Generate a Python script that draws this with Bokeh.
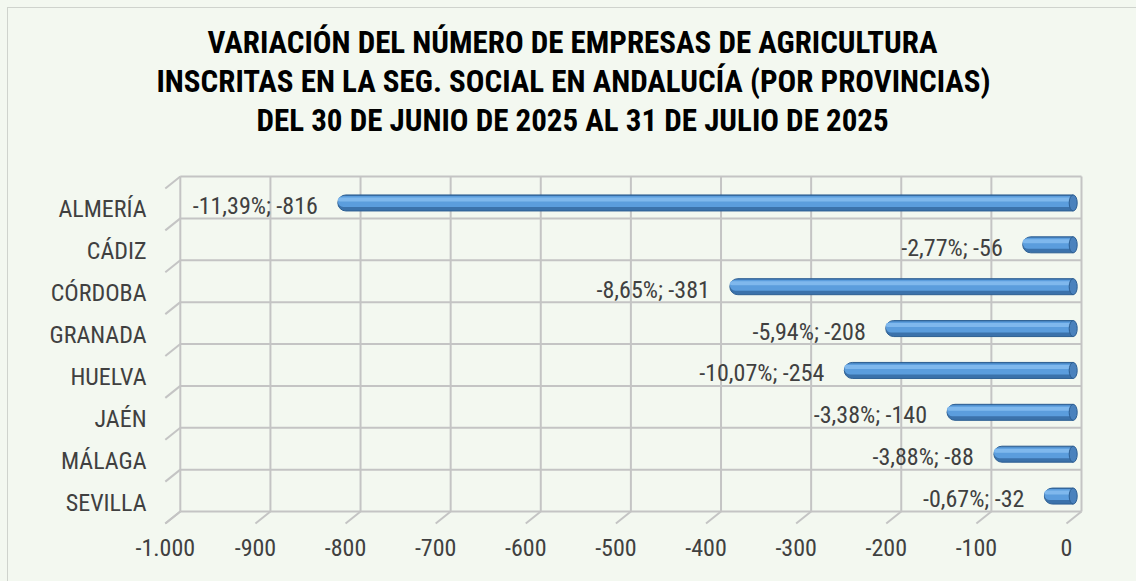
from bokeh.plotting import figure
from bokeh.models import Range1d, LinearAxis, FixedTicker, ColumnDataSource, Title
from bokeh.embed import file_html
from bokeh.resources import INLINE
from bokeh.core.properties import value

# ---------------- data ----------------
provincias = ["ALMERÍA", "CÁDIZ", "CÓRDOBA", "GRANADA", "HUELVA", "JAÉN", "MÁLAGA", "SEVILLA"]
variacion = [-816, -56, -381, -208, -254, -140, -88, -32]
porcentaje = ["-11,39%", "-2,77%", "-8,65%", "-5,94%", "-10,07%", "-3,38%", "-3,88%", "-0,67%"]
x_ticks = [-1000, -900, -800, -700, -600, -500, -400, -300, -200, -100, 0]
x_tick_labels = ["-1.000", "-900", "-800", "-700", "-600", "-500", "-400", "-300", "-200", "-100", "0"]
title_lines = [
    "VARIACIÓN DEL NÚMERO DE EMPRESAS DE AGRICULTURA",
    "INSCRITAS EN LA SEG. SOCIAL EN ANDALUCÍA (POR PROVINCIAS)",
    "DEL 30 DE JUNIO DE 2025 AL 31 DE JULIO DE 2025",
]

# ---------------- styling / geometry (page px) ----------------
FONT = "Roboto Condensed"
BG = "#f3f8f0"
GRID = "#c4c4c4"
BORDER = "#cfd3cd"
TXT = "#404040"
W, H = 1136, 581
PXU = 0.9012          # px per x unit
ROW = 41.875          # px per row
X0_PAGE = 1081        # page x of value 0 (back wall)
Y0_PAGE = 176         # page y of top of back wall
FRAME_L, FRAME_R, FRAME_T, FRAME_B = 163, 1084, 173, 525

x_start = (FRAME_L - X0_PAGE) / PXU
x_end = (FRAME_R - X0_PAGE) / PXU
y_end = -0.5 - (Y0_PAGE - FRAME_T) / ROW
y_start = -0.5 + (FRAME_B - Y0_PAGE) / ROW

DX = 15 / PXU      # depth offset (front is left)
DY = 12 / ROW      # depth offset (front is lower)
BAR_DX = -8.3 / PXU
BAR_DY = 5.5 / ROW

bg_css = (f"linear-gradient(to right, transparent 7px, {BORDER} 7px, {BORDER} 8px, transparent 8px) 0 7px / 100% 100% no-repeat, "
          f"linear-gradient(to bottom, transparent 7px, {BORDER} 7px, {BORDER} 8px, transparent 8px) 7px 0 / 100% 100% no-repeat, "
          f"{BG}")

p = figure(width=W, height=H,
           x_range=Range1d(x_start, x_end), y_range=Range1d(y_start, y_end),
           output_backend="svg", toolbar_location=None,
           x_axis_location=None, y_axis_location=None,
           min_border_left=FRAME_L, min_border_right=W - FRAME_R,
           min_border_top=FRAME_T, min_border_bottom=H - FRAME_B,
           background_fill_color=BG, border_fill_color=None, outline_line_color=None,
           styles={"background": bg_css})
p.grid.visible = False
p.title.visible = False
p.extra_x_ranges = {"front": Range1d(x_start + DX, x_end + DX)}
p.extra_y_ranges = {"front": Range1d(y_start - DY, y_end - DY)}

# ---------------- back wall grid & floor ticks ----------------
n = len(provincias)
y_bounds = [i - 0.5 for i in range(n + 1)]
xmin, xmax = x_ticks[0], x_ticks[-1]
ybot = y_bounds[-1]

p.segment(x0=[xmin] * len(y_bounds), x1=[xmax] * len(y_bounds), y0=y_bounds, y1=y_bounds,
          line_color=GRID, line_width=2)
p.segment(x0=x_ticks, x1=x_ticks, y0=[y_bounds[0]] * len(x_ticks), y1=[ybot] * len(x_ticks),
          line_color=GRID, line_width=2)
p.segment(x0=x_ticks, x1=[t - DX for t in x_ticks], y0=[ybot] * len(x_ticks),
          y1=[ybot + DY] * len(x_ticks), line_color=GRID, line_width=2)
p.segment(x0=[xmin] * len(y_bounds), x1=[xmin - DX] * len(y_bounds), y0=y_bounds,
          y1=[b + DY for b in y_bounds], line_color=GRID, line_width=2)

# ---------------- bars (cylinder look) ----------------
src = ColumnDataSource(dict(
    left=[v + BAR_DX for v in variacion],
    right=[BAR_DX] * n,
    y=[i + BAR_DY for i in range(n)],
    y_mid=[i + BAR_DY - 1.5 / ROW for i in range(n)],
    y_hi=[i + BAR_DY - 3.5 / ROW for i in range(n)],
    label=[f"{pc}; {v}" for pc, v in zip(porcentaje, variacion)],
))

p.hbar(y="y", left="left", right="right", height=16 / ROW, source=src,
       fill_color="#3b72ab", line_color="#2d5f93", line_width=1, border_radius=(8, 0, 0, 8))
p.hbar(y="y_mid", left="left", right="right", height=11 / ROW, source=src,
       fill_color="#5b9ddd", line_color=None, border_radius=(6, 0, 0, 6))
p.hbar(y="y_hi", left="left", right="right", height=4 / ROW, source=src,
       fill_color="#86bdf0", line_color=None, fill_alpha=0.85, border_radius=(2, 0, 0, 2))
p.ellipse(x="right", y="y", width=8, height=16, width_units="screen", height_units="screen",
          source=src, fill_color="#4a82bd", line_color="#2d5f93", line_width=1)

p.text(x="left", y="y", text="label", source=src, x_offset=-20, y_offset=3,
       text_align="right", text_baseline="middle", text_font=value(FONT),
       text_font_size="24px", text_color=TXT)

# ---------------- axes ----------------
xaxis = LinearAxis(x_range_name="front", ticker=FixedTicker(ticks=x_ticks),
                   major_label_overrides={t: l for t, l in zip(x_ticks, x_tick_labels)})
yaxis = LinearAxis(y_range_name="front", ticker=FixedTicker(ticks=list(range(n))),
                   major_label_overrides={i: name for i, name in enumerate(provincias)})
for ax, so in ((xaxis, 13), (yaxis, 17)):
    ax.axis_line_color = None
    ax.major_tick_line_color = None
    ax.minor_tick_line_color = None
    ax.major_tick_in = 0
    ax.major_tick_out = 0
    ax.major_label_standoff = so
    ax.major_label_text_font = FONT
    ax.major_label_text_font_size = "24px"
    ax.major_label_text_color = TXT
p.add_layout(xaxis, "below")
p.add_layout(yaxis, "left")

# ---------------- title (three centred lines) ----------------
TITLE_SIZE = 31
TITLE_CENTER = 574
TITLE_PAD = 3
rendered_widths = [728, 830, 630]     # rendered widths of the title lines (px)
p.add_layout(Title(text=" ", text_font_size="10px", standoff=22), "above")   # spacer
for line, w in reversed(list(zip(title_lines, rendered_widths))):
    p.add_layout(Title(text=line, align="left",
                       offset=round(TITLE_CENTER - w / 2 - FRAME_L - TITLE_PAD),
                       standoff=0, text_font=FONT, text_font_style="bold",
                       text_font_size=f"{TITLE_SIZE}px", text_color="#000000"), "above")

open("out.html", "w").write(file_html(p, INLINE))
